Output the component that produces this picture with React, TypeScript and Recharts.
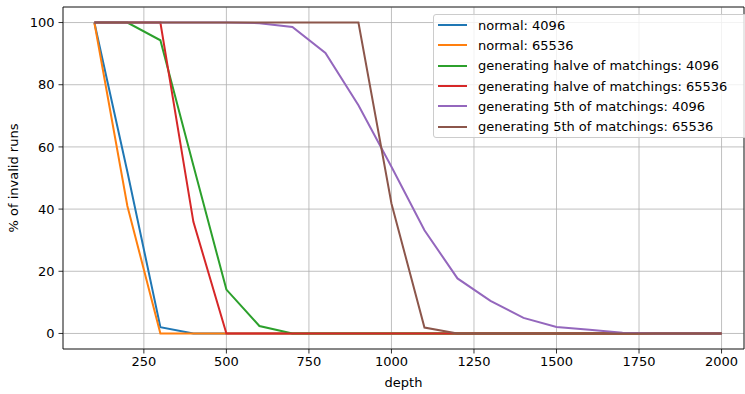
import {
  CartesianGrid,
  Line,
  LineChart,
  ReferenceLine,
  XAxis,
  YAxis,
} from "recharts";

const depths = [
  100, 200, 300, 400, 500, 600, 700, 800, 900, 1000,
  1100, 1200, 1300, 1400, 1500, 1600, 1700, 1800, 1900, 2000,
];

const normal4096 = [100, 52, 2, 0, 0, 0, 0, 0, 0, 0, 0, 0, 0, 0, 0, 0, 0, 0, 0, 0];
const normal65536 = [100, 41, 0, 0, 0, 0, 0, 0, 0, 0, 0, 0, 0, 0, 0, 0, 0, 0, 0, 0];
const halve4096 = [100, 100, 94.3, 54, 14.1, 2.4, 0, 0, 0, 0, 0, 0, 0, 0, 0, 0, 0, 0, 0, 0];
const halve65536 = [100, 100, 100, 35.9, 0, 0, 0, 0, 0, 0, 0, 0, 0, 0, 0, 0, 0, 0, 0, 0];
const fifth4096 = [
  100, 100, 100, 100, 100, 99.8, 98.6, 90.2, 73.4, 53.6,
  33.2, 17.7, 10.5, 5, 2.1, 1.2, 0.2, 0, 0, 0,
];
const fifth65536 = [100, 100, 100, 100, 100, 100, 100, 100, 100, 41.8, 1.9, 0, 0, 0, 0, 0, 0, 0, 0, 0];

const xTicks = [250, 500, 750, 1000, 1250, 1500, 1750, 2000];
const yTicks = [0, 20, 40, 60, 80, 100];

const SERIES = [
  { key: "n4096", name: "normal: 4096", color: "#1f77b4", values: normal4096 },
  { key: "n65536", name: "normal: 65536", color: "#ff7f0e", values: normal65536 },
  { key: "h4096", name: "generating halve of matchings: 4096", color: "#2ca02c", values: halve4096 },
  { key: "h65536", name: "generating halve of matchings: 65536", color: "#d62728", values: halve65536 },
  { key: "f4096", name: "generating 5th of matchings: 4096", color: "#9467bd", values: fifth4096 },
  { key: "f65536", name: "generating 5th of matchings: 65536", color: "#8c564b", values: fifth65536 },
];

const X_MIN = 5;
const X_MAX = 2068;
const Y_MIN = -5;
const Y_MAX = 105;

const FONT = "'DejaVu Sans', sans-serif";

const rows = depths.map((d, i) => {
  const row: Record<string, number> = { depth: d };
  SERIES.forEach((s) => {
    row[s.key] = s.values[i];
  });
  return row;
});

// legend drawn as an overlay so it doesn't steal plot height
function LegendBox() {
  return (
    <div
      style={{
        position: "absolute",
        left: 433,
        top: 14,
        width: 320,
        height: 124,
        boxSizing: "border-box",
        border: "1px solid #cccccc",
        borderRadius: 3,
        background: "rgba(255,255,255,0.8)",
        fontFamily: FONT,
        fontSize: 13,
        color: "#000",
      }}
    >
      {SERIES.map((s) => (
        <div
          key={s.key}
          style={{ display: "flex", alignItems: "center", height: 20.3, whiteSpace: "nowrap" }}
        >
          <span
            style={{
              display: "inline-block",
              width: 29,
              height: 2,
              marginLeft: 4,
              marginRight: 11,
              background: s.color,
            }}
          />
          <span>{s.name}</span>
        </div>
      ))}
    </div>
  );
}

export default function App() {
  return (
    <div style={{ position: "absolute", left: 0, top: 0, width: 745, height: 394, background: "#fff", overflow: "hidden" }}>
      <LineChart
        width={745}
        height={394}
        data={rows}
        margin={{ top: 7, right: 1, bottom: 0, left: 0 }}
      >
        <CartesianGrid stroke="#b0b0b0" strokeWidth={0.8} />
        <XAxis
          dataKey="depth"
          type="number"
          domain={[X_MIN, X_MAX]}
          ticks={xTicks}
          allowDataOverflow
          height={45}
          tickSize={4.5}
          tickMargin={3}
          stroke="#000"
          strokeWidth={0.8}
          tick={{ fill: "#000", fontSize: 13, fontFamily: FONT }}
          label={{
            value: "depth",
            position: "insideBottom",
            offset: 7,
            fill: "#000",
            fontSize: 13,
            fontFamily: FONT,
          }}
        />
        <YAxis
          type="number"
          domain={[Y_MIN, Y_MAX]}
          ticks={yTicks}
          allowDataOverflow
          width={63}
          tickSize={4.5}
          tickMargin={4}
          stroke="#000"
          strokeWidth={0.8}
          tick={{ fill: "#000", fontSize: 13, fontFamily: FONT }}
          label={{
            value: "% of invalid runs",
            angle: -90,
            position: "insideLeft",
            offset: 13,
            fill: "#000",
            fontSize: 13,
            fontFamily: FONT,
            style: { textAnchor: "middle" },
          }}
        />
        <ReferenceLine y={Y_MAX} stroke="#000" strokeWidth={0.8} />
        <ReferenceLine x={X_MAX} stroke="#000" strokeWidth={0.8} />
        {SERIES.map((s) => (
          <Line
            key={s.key}
            dataKey={s.key}
            name={s.name}
            type="linear"
            stroke={s.color}
            strokeWidth={2}
            dot={false}
            activeDot={false}
            isAnimationActive={false}
          />
        ))}
      </LineChart>
      <LegendBox />
    </div>
  );
}
